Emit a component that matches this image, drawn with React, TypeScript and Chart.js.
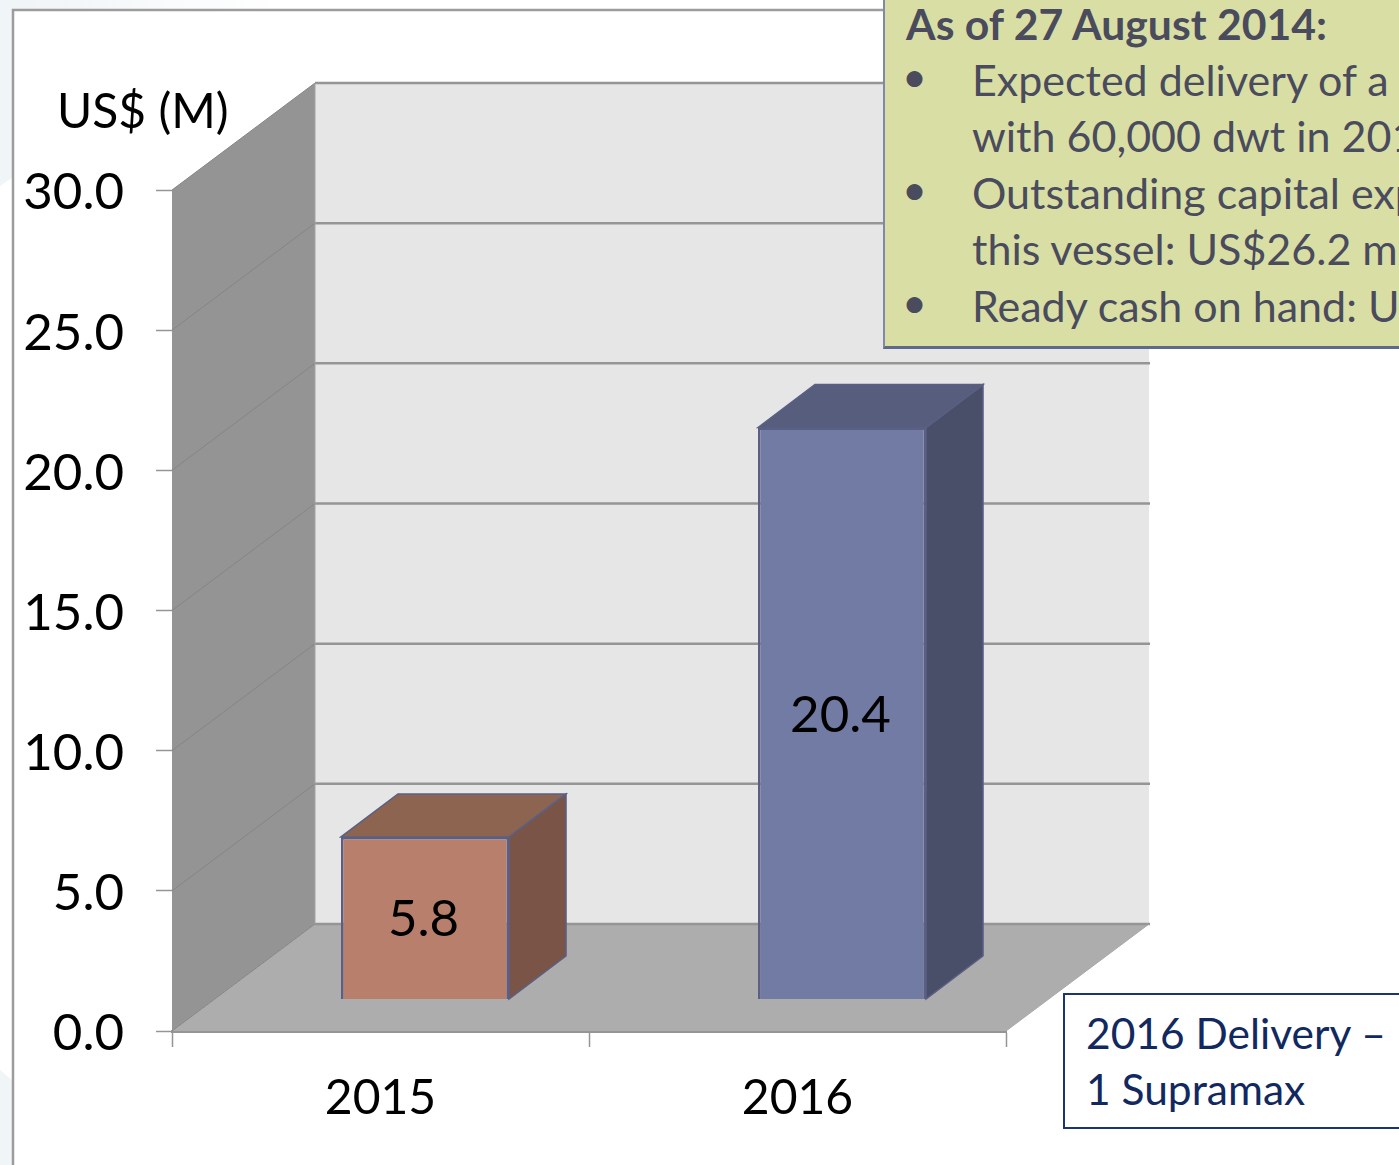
import React, { useEffect, useRef } from "react";
import { Chart, registerables } from "chart.js";

Chart.register(...registerables);

const categories = ["2015", "2016"];
const capexValues = [5.8, 20.4];
const frontColors = ["#b8806c", "#717ba3"];
const topColors = ["#8c6450", "#575d7c"];
const sideColors = ["#7a5547", "#494f69"];
const yAxisTitle = "US$ (M)";
const noteHeading = "As of 27 August 2014:";
const noteBullets = [
  ["•", "Expected delivery of a"],
  ["", "with 60,000 dwt in 2016"],
  ["•", "Outstanding capital exp"],
  ["", "this vessel: US$26.2 m"],
  ["•", "Ready cash on hand: U"],
];
const deliveryLines = ["2016 Delivery –", "1 Supramax"];

const FONT = "Lato, Carlito, sans-serif";
const WALL = { dx: 143, dy: -107 };
const BAR_SHIFT = { x: 44.5, y: -31.5 };
const BAR_DEPTH = { x: 57, y: -43 };

function poly(ctx: CanvasRenderingContext2D, pts: number[][], fill: string, stroke?: string, lw = 1) {
  ctx.beginPath();
  pts.forEach(([x, y], i) => (i ? ctx.lineTo(x, y) : ctx.moveTo(x, y)));
  ctx.closePath();
  ctx.fillStyle = fill;
  ctx.fill();
  if (stroke) {
    ctx.strokeStyle = stroke;
    ctx.lineWidth = lw;
    ctx.stroke();
  }
}

const scene3d = {
  id: "scene3d",
  afterUpdate(chart: any) {
    chart.scales.y.getLabelItems().forEach((item: any) => {
      item.options.translation[1] += 3;
    });
  },
  beforeDraw(chart: any) {
    const ctx: CanvasRenderingContext2D = chart.ctx;
    ctx.save();
    const g1 = ctx.createLinearGradient(0, 0, 280, 0);
    g1.addColorStop(0, "#eff4f7");
    g1.addColorStop(1, "#ffffff");
    ctx.fillStyle = g1;
    ctx.fillRect(0, 0, 280, 10);
    ctx.fillStyle = "#f0f5f8";
    ctx.beginPath();
    ctx.moveTo(0, 0);
    ctx.lineTo(12, 0);
    ctx.lineTo(12, 178);
    ctx.lineTo(0, 186);
    ctx.closePath();
    ctx.fill();
    ctx.beginPath();
    ctx.moveTo(0, 1070);
    ctx.lineTo(12, 1080);
    ctx.lineTo(12, 1165);
    ctx.lineTo(0, 1165);
    ctx.closePath();
    ctx.fill();
    ctx.strokeStyle = "#9c9c9c";
    ctx.lineWidth = 2.5;
    ctx.beginPath();
    ctx.moveTo(13, 1165);
    ctx.lineTo(13, 10);
    ctx.lineTo(890, 10);
    ctx.stroke();
    ctx.restore();
  },
  beforeDatasetsDraw(chart: any) {
    const ctx: CanvasRenderingContext2D = chart.ctx;
    const { left, right } = chart.chartArea;
    const y = chart.scales.y;
    const y0 = y.getPixelForValue(0);
    const yT = y.getPixelForValue(y.max);
    const { dx, dy } = WALL;
    ctx.save();
    poly(ctx, [[left + dx, y0 + dy], [right + dx, y0 + dy], [right, y0], [left, y0]], "#adadad");
    poly(ctx, [[left + dx, yT + dy], [right + dx, yT + dy], [right + dx, y0 + dy], [left + dx, y0 + dy]], "#e6e6e6");
    poly(ctx, [[left, yT], [left + dx, yT + dy], [left + dx, y0 + dy], [left, y0]], "#949494");
    y.ticks.forEach((t: any) => {
      const py = y.getPixelForValue(t.value);
      ctx.lineWidth = 1;
      ctx.strokeStyle = "#858585";
      ctx.beginPath();
      ctx.moveTo(left, py);
      ctx.lineTo(left + dx, py + dy);
      ctx.stroke();
      ctx.lineWidth = 2.5;
      ctx.strokeStyle = "#959595";
      ctx.beginPath();
      ctx.moveTo(left + dx, py + dy);
      ctx.lineTo(right + dx + 1, py + dy);
      ctx.stroke();
    });
    ctx.lineWidth = 1;
    ctx.strokeStyle = "#a8a8a8";
    ctx.beginPath();
    ctx.moveTo(right + dx, y0 + dy);
    ctx.lineTo(right, y0);
    ctx.stroke();
    ctx.strokeStyle = "#a3a3a3";
    ctx.beginPath();
    ctx.moveTo(left + dx, yT + dy);
    ctx.lineTo(left + dx, y0 + dy);
    ctx.stroke();

    const meta = chart.getDatasetMeta(0);
    meta.data.forEach((bar: any, i: number) => {
      const l = bar.x - bar.width / 2 + BAR_SHIFT.x;
      const r = bar.x + bar.width / 2 + BAR_SHIFT.x;
      const t = bar.y + BAR_SHIFT.y;
      const b = bar.base + BAR_SHIFT.y;
      const d = BAR_DEPTH;
      poly(ctx, [[r, t], [r + d.x, t + d.y], [r + d.x, b + d.y], [r, b]], sideColors[i], "#5a5f85", 1.5);
      poly(ctx, [[l, t], [l + d.x, t + d.y], [r + d.x, t + d.y], [r, t]], topColors[i], "#5a5f85", 1.5);
    });
    ctx.restore();
    ctx.save();
    ctx.translate(BAR_SHIFT.x, BAR_SHIFT.y);
  },
  afterDatasetsDraw(chart: any) {
    const ctx: CanvasRenderingContext2D = chart.ctx;
    ctx.restore();
    ctx.save();
    ctx.font = `51px ${FONT}`;
    ctx.fillStyle = "#000";
    ctx.textAlign = "center";
    ctx.textBaseline = "middle";
    chart.getDatasetMeta(0).data.forEach((bar: any, i: number) => {
      ctx.fillText(capexValues[i].toFixed(1), bar.x + BAR_SHIFT.x - 1.5, (bar.y + bar.base) / 2 + BAR_SHIFT.y + 2);
    });
    ctx.textAlign = "left";
    ctx.font = `48px ${FONT}`;
    ctx.fillText(yAxisTitle, 57, 113);
    ctx.restore();
  },
};

export default function App() {
  const ref = useRef<HTMLCanvasElement>(null);
  useEffect(() => {
    const chart = new Chart(ref.current as HTMLCanvasElement, {
      type: "bar",
      data: {
        labels: categories,
        datasets: [
          {
            data: capexValues,
            backgroundColor: frontColors,
            borderColor: "#5a5f85",
            borderWidth: 2.5,
            categoryPercentage: 1,
            barPercentage: 0.403,
          },
        ],
      },
      options: {
        responsive: false,
        animation: false,
        events: [],
        layout: { padding: { top: 190, right: 393, bottom: 0, left: 0 } },
        plugins: { legend: { display: false }, tooltip: { enabled: false }, title: { display: false } },
        scales: {
          x: {
            afterFit: (s: any) => { s.height = 134; },
            border: { display: true, color: "#959595", width: 3 },
            grid: { drawOnChartArea: false, drawTicks: true, tickLength: 16, color: "#959595", tickWidth: 1.5 },
            ticks: { color: "#000", padding: 23, maxRotation: 0, font: { family: FONT, size: 48 } },
          },
          y: {
            min: 0,
            max: 30,
            afterFit: (s: any) => { s.width = 172; },
            border: { display: false },
            grid: { drawOnChartArea: false, drawTicks: true, tickLength: 16, color: "#959595", tickWidth: 1.5 },
            ticks: {
              stepSize: 5,
              color: "#000",
              padding: 32,
              font: { family: FONT, size: 51 },
              callback: (v: any) => Number(v).toFixed(1),
            },
          },
        },
      },
      plugins: [scene3d],
    } as any);
    return () => chart.destroy();
  }, []);

  const noteText: React.CSSProperties = {
    position: "absolute",
    whiteSpace: "nowrap",
    fontFamily: FONT,
    fontSize: 43,
    lineHeight: "56px",
    color: "#4a4b5c",
  };

  return (
    <div style={{ position: "fixed", left: 0, top: 0, width: 1399, height: 1165, overflow: "hidden", background: "#fff" }}>
      <canvas ref={ref} width={1399} height={1165} style={{ display: "block" }} />
      <div
        style={{
          position: "absolute", left: 883, top: -10, width: 540, height: 359, background: "#d9dfa4",
          borderStyle: "solid", borderWidth: "0 2px 3px 2px", borderColor: "#7f8aa8 #7f8aa8 #5f6a8a #7f8aa8", boxSizing: "border-box",
        }}
      />
      <div style={{ ...noteText, left: 906, top: -4, fontWeight: 700, fontSize: 42.7 }}>{noteHeading}</div>
      {noteBullets.map(([b, t], i) => (
        <React.Fragment key={i}>
          {b && <div style={{ ...noteText, left: 902, top: 48 + i * 56.4 }}>{b}</div>}
          <div style={{ ...noteText, left: 972, top: 52 + i * 56.4 }}>{t}</div>
        </React.Fragment>
      ))}
      <div
        style={{
          position: "absolute", left: 1063, top: 993, width: 360, height: 136, background: "#fff",
          border: "2px solid #1b3472", boxSizing: "border-box",
        }}
      />
      {deliveryLines.map((t, i) => (
        <div key={i} style={{ ...noteText, left: 1086, top: 1005 + i * 56.4, color: "#12295f", fontSize: 42.5 }}>{t}</div>
      ))}
    </div>
  );
}
